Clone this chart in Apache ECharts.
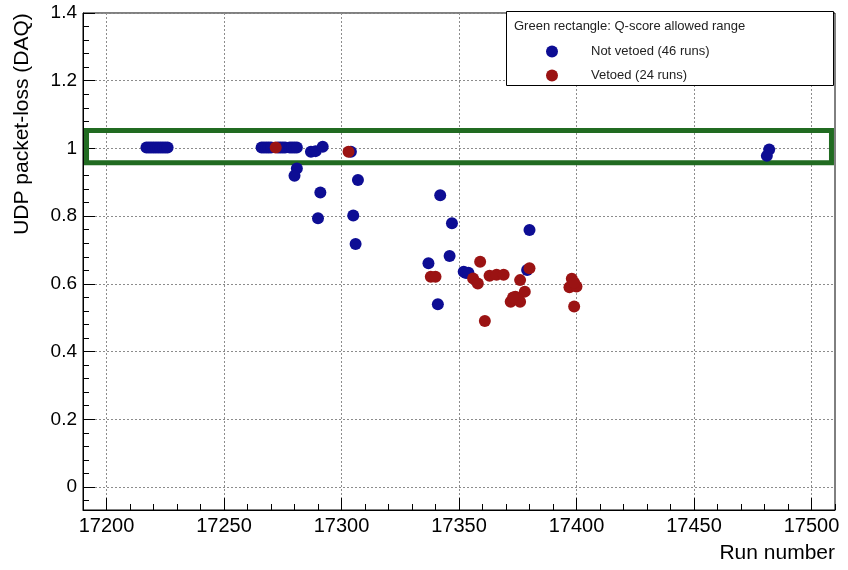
<!DOCTYPE html>
<html>
<head>
<meta charset="utf-8">
<script src="https://cdn.jsdelivr.net/npm/echarts@6/dist/echarts.min.js"></script>
<style>
  html, body { margin: 0; padding: 0; background: #fff; }
  #chart { width: 848px; height: 570px; }
</style>
</head>
<body>
<div id="chart"></div>
<script>
// Runs that passed the veto
const notVetoedRuns = [
  17217, 17218, 17219, 17220, 17221, 17222, 17223, 17224, 17225, 17226,
  17266, 17267, 17268, 17269, 17270, 17273, 17274, 17275, 17276, 17278, 17279, 17280, 17281,
  17287, 17289, 17292, 17304, 17281, 17280,
  17307, 17291, 17290, 17305, 17306,
  17342, 17347, 17346, 17337, 17341,
  17352, 17353, 17354, 17380, 17379,
  17482, 17481
];
const notVetoedLoss = [
  1.003, 1.003, 1.003, 1.003, 1.003, 1.003, 1.003, 1.003, 1.003, 1.003,
  1.003, 1.003, 1.003, 1.003, 1.003, 1.003, 1.003, 1.003, 1.003, 1.003, 1.003, 1.003, 1.003,
  0.990, 0.992, 1.005, 0.990, 0.941, 0.919,
  0.907, 0.870, 0.794, 0.802, 0.718,
  0.862, 0.779, 0.682, 0.661, 0.540,
  0.636, 0.632, 0.633, 0.759, 0.641,
  0.997, 0.978
];

// Vetoed runs
const vetoedRuns = [
  17272, 17303, 17338, 17340,
  17359, 17356, 17358, 17363, 17366, 17369, 17361,
  17376, 17380,
  17372, 17374, 17376, 17378, 17375, 17373,
  17398, 17397, 17400, 17399, 17399
];
const vetoedLoss = [
  1.003, 0.990, 0.621, 0.621,
  0.665, 0.616, 0.601, 0.624, 0.627, 0.627, 0.490,
  0.611, 0.646,
  0.547, 0.562, 0.547, 0.577, 0.555, 0.560,
  0.615, 0.590, 0.592, 0.533, 0.603
];

// Q-score allowed range (green rectangle)
const qRuns = [17191.5, 17508.5];
const qLoss = [0.958, 1.053];

// Axis ticks
const xRange = [17190, 17510];
const yRange = [-0.068, 1.4];
const xMajor = [17200, 17250, 17300, 17350, 17400, 17450, 17500];
const xMinor = [17190, 17210, 17220, 17230, 17240, 17260, 17270, 17280, 17290,
  17310, 17320, 17330, 17340, 17360, 17370, 17380, 17390,
  17410, 17420, 17430, 17440, 17460, 17470, 17480, 17490, 17510];
const yMajor = [0, 0.2, 0.4, 0.6, 0.8, 1.0, 1.2, 1.4];
const yMinor = [-0.04, 0.04, 0.08, 0.12, 0.16, 0.24, 0.28, 0.32, 0.36, 0.44, 0.48, 0.52, 0.56,
  0.64, 0.68, 0.72, 0.76, 0.84, 0.88, 0.92, 0.96, 1.04, 1.08, 1.12, 1.16,
  1.24, 1.28, 1.32, 1.36];

const zip = (xs, ys) => xs.map((x, i) => [x, ys[i]]);

const FONT = 'Liberation Sans, Arial, Helvetica, sans-serif';
const BLUE = '#0d0d94';
const RED = '#9b1313';
const GREEN = '#216b21';

const chart = echarts.init(document.getElementById('chart'), null, { renderer: 'canvas' });

const yFmt = v => String(Math.round(v * 10) / 10);
const xFmt = v => String(Math.round(v));

const gridDots = { show: true, lineStyle: { color: '#8c8c8c', type: [2, 2], width: 1 } };

chart.setOption({
  animation: false,
  backgroundColor: '#fff',
  grid: {
    left: 83, right: 13, top: 13, bottom: 60,
    show: true, borderColor: '#000', borderWidth: 1, backgroundColor: 'transparent'
  },
  xAxis: [
    {
      type: 'value', min: xRange[0], max: xRange[1],
      axisLine: { show: true, onZero: false, lineStyle: { color: '#000', width: 1 } },
      axisTick: { show: true, inside: true, length: 12, customValues: xMajor, lineStyle: { color: '#000' } },
      axisLabel: { customValues: xMajor, color: '#000', fontSize: 20, fontFamily: FONT, margin: 6, formatter: xFmt },
      splitLine: gridDots
    },
    {
      type: 'value', min: xRange[0], max: xRange[1], position: 'bottom',
      axisLine: { show: false, onZero: false },
      axisTick: { show: true, inside: true, length: 6, customValues: xMinor, lineStyle: { color: '#000' } },
      axisLabel: { show: false },
      splitLine: { show: false }
    }
  ],
  yAxis: [
    {
      type: 'value', min: yRange[0], max: yRange[1],
      axisLine: { show: true, onZero: false, lineStyle: { color: '#000', width: 1 } },
      axisTick: { show: true, inside: true, length: 12, customValues: yMajor, lineStyle: { color: '#000' } },
      axisLabel: { customValues: yMajor, color: '#000', fontSize: 19, fontFamily: FONT, margin: 6, formatter: yFmt },
      splitLine: gridDots
    },
    {
      type: 'value', min: yRange[0], max: yRange[1], position: 'left',
      axisLine: { show: false, onZero: false },
      axisTick: { show: true, inside: true, length: 6, customValues: yMinor, lineStyle: { color: '#000' } },
      axisLabel: { show: false },
      splitLine: { show: false }
    }
  ],
  legend: {
    orient: 'vertical',
    left: 541, top: 40,
    itemWidth: 12, itemHeight: 12, itemGap: 11,
    icon: 'circle',
    z: 10,
    textStyle: { fontSize: 13, fontFamily: FONT, color: '#222', padding: [0, 0, 0, 28] },
    data: ['Not vetoed (46 runs)', 'Vetoed (24 runs)']
  },
  graphic: [
    {
      type: 'rect', z: 5,
      shape: { x: 506.5, y: 11.5, width: 327, height: 74 },
      style: { fill: '#fff', stroke: '#000', lineWidth: 1 }
    },
    {
      type: 'text', z: 6, x: 514, y: 26,
      style: { text: 'Green rectangle: Q-score allowed range', font: '13px ' + FONT, fill: '#222', textVerticalAlign: 'middle' }
    },
    {
      type: 'text', z: 6, x: 835, y: 553,
      style: { text: 'Run number', font: '21px ' + FONT, fill: '#000', textAlign: 'right', textVerticalAlign: 'middle' }
    },
    {
      type: 'text', z: 6, x: 22, y: 124, rotation: Math.PI / 2,
      style: { text: 'UDP packet-loss (DAQ)', font: '21px ' + FONT, fill: '#000', textAlign: 'center', textVerticalAlign: 'middle' }
    }
  ],
  series: [
    {
      name: 'Not vetoed (46 runs)',
      type: 'scatter',
      xAxisIndex: 0, yAxisIndex: 0,
      symbol: 'circle', symbolSize: 12,
      itemStyle: { color: BLUE, opacity: 1 },
      data: zip(notVetoedRuns, notVetoedLoss),
      markArea: {
        silent: true,
        itemStyle: { color: 'rgba(0,0,0,0)', borderColor: GREEN, borderWidth: 5 },
        data: [[{ coord: [qRuns[0], qLoss[1]] }, { coord: [qRuns[1], qLoss[0]] }]]
      },
      z: 3
    },
    {
      name: 'Vetoed (24 runs)',
      type: 'scatter',
      xAxisIndex: 0, yAxisIndex: 0,
      symbol: 'circle', symbolSize: 12,
      itemStyle: { color: RED, opacity: 1 },
      data: zip(vetoedRuns, vetoedLoss),
      z: 4
    }
  ]
});
</script>
</body>
</html>
